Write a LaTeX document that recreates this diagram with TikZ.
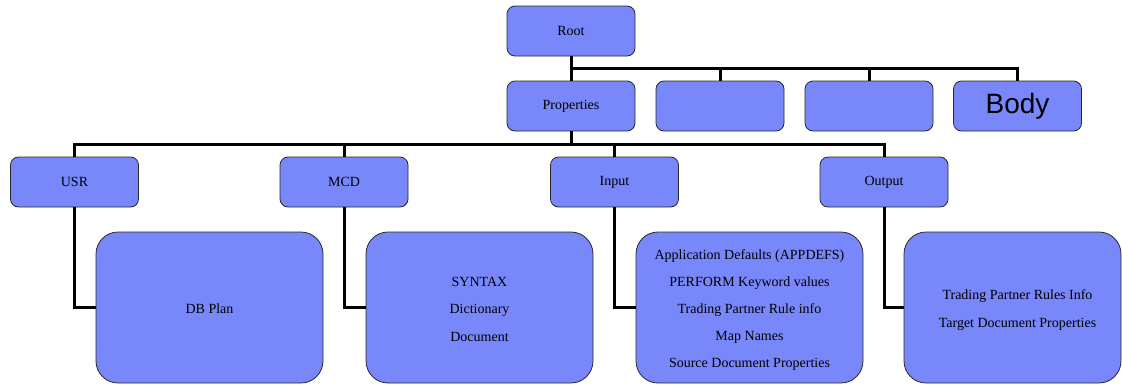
\documentclass[tikz,border=0pt]{standalone}
\usepackage{fontspec}
\setmainfont{Liberation Serif}
\newfontfamily\bodyfont{Liberation Sans}
\definecolor{boxblue}{RGB}{120,136,250}
\definecolor{boxedge}{RGB}{40,40,40}
\begin{document}
\begin{tikzpicture}[x=1pt,y=-1pt,
  smallbox/.style={rectangle, rounded corners=8pt, draw=boxedge, line width=0.8pt,
    fill=boxblue, minimum width=128pt, minimum height=50pt, inner sep=0pt,
    font=\fontsize{14}{16}\selectfont},
  bigbox/.style={rectangle, rounded corners=22pt, draw=boxedge, line width=0.8pt,
    fill=boxblue, minimum width=227pt, minimum height=151pt, inner sep=0pt},
  boxtext/.style={align=center, inner sep=0pt, font=\fontsize{14}{27.5}\selectfont},
  conn/.style={line width=3pt, black}]
\useasboundingbox (0,0) rectangle (1122,389);

% top level
\node[smallbox] (root) at (571,31) {Root};
\node[smallbox] (props) at (571,106) {Properties};
\node[smallbox] (mid1) at (720,106) {};
\node[smallbox] (mid2) at (869,106) {};
\node[smallbox, font=\bodyfont\fontsize{28}{30}\selectfont] (body) at (1017.5,106) {Body};

% second level
\node[smallbox] (usr) at (74.5,182) {USR};
\node[smallbox] (mcd) at (344,182) {MCD};
\node[smallbox] (input) at (614.5,182) {Input};
\node[smallbox] (output) at (884,182) {Output};

% detail boxes and their texts
\node[bigbox] (dbplan) at (209.5,307.5) {};
\node[boxtext] (dbtext) at ([yshift=-1pt]dbplan.center) {DB Plan};
\node[bigbox] (syntax) at (479.5,307.5) {};
\node[boxtext] (syntext) at ([yshift=-1.5pt]syntax.center) {SYNTAX\\Dictionary\\Document};
\node[bigbox] (indet) at (749.5,307.5) {};
\node[boxtext, font=\fontsize{14}{27}\selectfont] (intext) at ([yshift=-3pt]indet.center)
  {Application Defaults (APPDEFS)\\PERFORM Keyword values\\Trading Partner Rule info\\Map Names\\Source Document Properties};
\node[bigbox, minimum width=217pt] (outdet) at (1012.5,307.5) {};
\node[boxtext, font=\fontsize{14}{28.5}\selectfont] (outtext) at ([xshift=5pt,yshift=-2.5pt]outdet.center)
  {Trading Partner Rules Info\\Target Document Properties};

% bus under Root
\coordinate (busA) at (571,68);
\draw[conn] (root.south) -- (props.north);
\draw[conn] (busA) -| (body.north);
\draw[conn] (mid1.north) -- (mid1.north |- busA);
\draw[conn] (mid2.north) -- (mid2.north |- busA);

% bus under Properties
\coordinate (busB) at (571,144);
\draw[conn] (props.south) -- (busB);
\draw[conn] (usr.north) |- (busB) -| (output.north);
\draw[conn] (mcd.north) -- (mcd.north |- busB);
\draw[conn] (input.north) -- (input.north |- busB);

% links to detail boxes
\draw[conn] (usr.south) |- (dbplan.west);
\draw[conn] (mcd.south) |- (syntax.west);
\draw[conn] (input.south) |- (indet.west);
\draw[conn] (output.south) |- (outdet.west);
\end{tikzpicture}
\end{document}
